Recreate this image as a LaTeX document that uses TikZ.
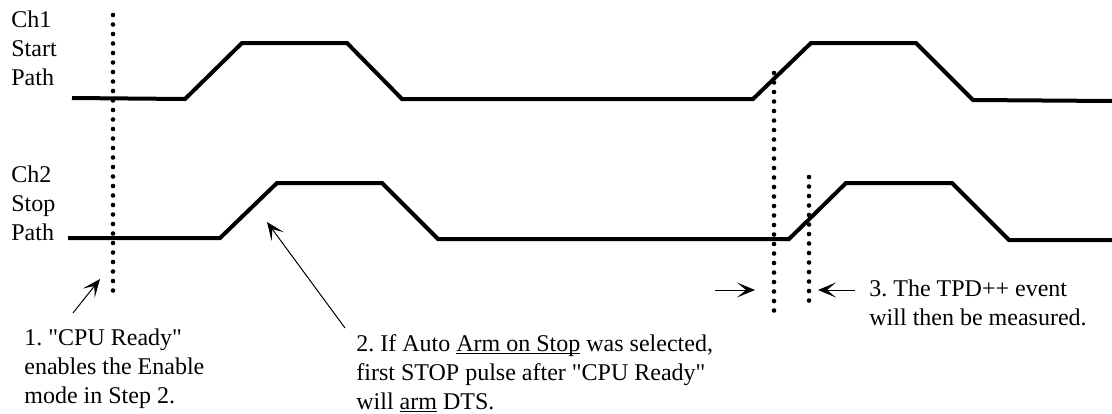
\documentclass[tikz,border=0pt]{standalone}
\usepackage{fontspec}
\setmainfont[Ligatures=TeXOff]{Liberation Serif}
\usetikzlibrary{arrows.meta}
\frenchspacing
\newcommand{\wordul}[1]{\setbox0\hbox{#1}\rlap{\rule[-1.3pt]{\wd0}{0.5pt}}#1}

\begin{document}
\begin{tikzpicture}[x=0.5pt,y=-0.5pt,
    signal/.style={line width=2pt,line join=miter},
    marker/.style={line width=2.3pt,line cap=round,dash pattern=on 0pt off 4.75pt},
    note/.style={align=left,inner sep=0pt,anchor=base west,font=\fontsize{12}{14.5}\selectfont},
    pointer/.style={-{Stealth[length=9pt,width=7.5pt,inset=4.5pt]},line width=0.5pt}]
  \useasboundingbox (0,0) rectangle (1112,413);

  % channel names (anchored at the last line)
  \node[note] (ch1) at (11,85) {Ch1\\Start\\Path};
  \node[note] (ch2) at (11,240) {Ch2\\Stop\\Path};

  % waveforms
  \draw[signal] (72,98) -- (185,99) -- (242,43) -- (347,43) -- (402,99) -- (753,99)
    -- (811,43) -- (916,43) -- (973,100) -- (1112,101);
  \draw[signal] (68,238) -- (220,238) -- (277,183) -- (382,183) -- (438,239) -- (789,239)
    -- (846,183) -- (952,183) -- (1009,240) -- (1112,240);

  % dotted markers
  \coordinate (ready top) at (113,15);
  \coordinate (ready bot) at (113,300);
  \coordinate (start top) at (774,73);
  \coordinate (start bot) at (774,320);
  \coordinate (stop top) at (809,177);
  \coordinate (stop bot) at (809,310);
  \draw[marker] (ready top) -- (ready bot);
  \draw[marker] (start top) -- (start bot);
  \draw[marker] (stop top) -- (stop bot);

  % notes
  \node[note] (n1) at (24,403) {1. "CPU Ready"\\enables the Enable\\mode in Step 2.};
  \node[note] (n2) at (356,409) {2. If Auto \wordul{Arm on Stop} was selected,\\first STOP pulse after "CPU Ready"\\will \wordul{arm} DTS.};
  \node[note] (n3) at (869,325) {3. The TPD++ event\\will then be measured.};

  % pointers
  \coordinate (a1) at (73,313);
  \coordinate (t1) at (100,279);
  \coordinate (a2) at (345,328);
  \coordinate (t2) at (267,222);
  \coordinate (a3) at (715,290);
  \coordinate (t3) at (755,290);
  \coordinate (a4) at (855,290);
  \coordinate (t4) at (818,290);
  \draw[pointer] (a1) -- (t1);
  \draw[pointer] (a2) -- (t2);
  \draw[pointer] (a3) -- (t3);
  \draw[pointer] (a4) -- (t4);
\end{tikzpicture}
\end{document}
